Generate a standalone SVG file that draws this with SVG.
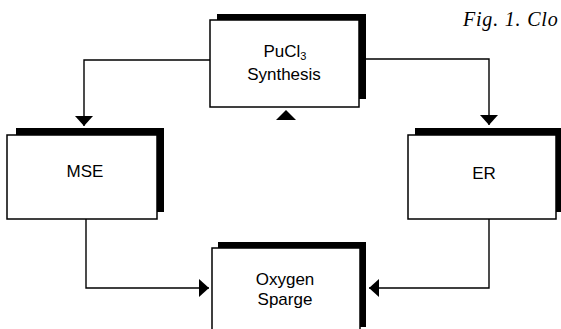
<svg xmlns="http://www.w3.org/2000/svg" width="561" height="329" viewBox="0 0 561 329">
<defs>
<style>
.sh{fill:#000}
.bx{fill:#fff;stroke:#000;stroke-width:1.5}
.lbl{font-family:"Liberation Sans",Arial,sans-serif;font-size:17px;fill:#000;text-anchor:middle}
.cn{fill:none;stroke:#000;stroke-width:1.4}
.cap{font-family:"Liberation Serif","Times New Roman",serif;font-style:italic;font-size:20px;fill:#000;letter-spacing:0.8px}
</style>
<marker id="ah" markerUnits="userSpaceOnUse" viewBox="0 0 10 18" refX="10" refY="9" markerWidth="10" markerHeight="18" orient="auto">
<path d="M0,0 L10,9 L0,18 Z" fill="#000"/>
</marker>
</defs>
<rect width="561" height="329" fill="#fff"/>
<text class="cap" x="463" y="26">Fig. 1. Clo</text>
<g id="connectors">
<path class="cn" d="M210,60 H84 V126" marker-end="url(#ah)"/>
<path class="cn" d="M366,59 H489 V125" marker-end="url(#ah)"/>
<path class="cn" d="M86,219 V288 H209" marker-end="url(#ah)"/>
<path class="cn" d="M489,218 V288 H369" marker-end="url(#ah)"/>
<polygon points="286,110 296,120 276,120" fill="#000"/>
</g>
<g id="pucl3">
<rect class="sh" x="217" y="14" width="149" height="85"/>
<rect class="bx" x="210" y="20" width="149" height="87"/>
<text class="lbl" x="285" y="57">PuCl<tspan font-size="11" dy="3">3</tspan></text>
<text class="lbl" x="284" y="80">Synthesis</text>
</g>
<g id="mse">
<rect class="sh" x="16" y="128" width="148" height="84"/>
<rect class="bx" x="7" y="135" width="150" height="84"/>
<text class="lbl" x="85" y="177">MSE</text>
</g>
<g id="er">
<rect class="sh" x="415" y="128" width="148" height="84"/>
<rect class="bx" x="408" y="135" width="148" height="84"/>
<text class="lbl" x="484" y="179">ER</text>
</g>
<g id="oxygen">
<rect class="sh" x="218" y="242" width="148" height="85"/>
<rect class="bx" x="212" y="248" width="148" height="90"/>
<text class="lbl" x="285" y="285">Oxygen</text>
<text class="lbl" x="285" y="305">Sparge</text>
</g>
</svg>
